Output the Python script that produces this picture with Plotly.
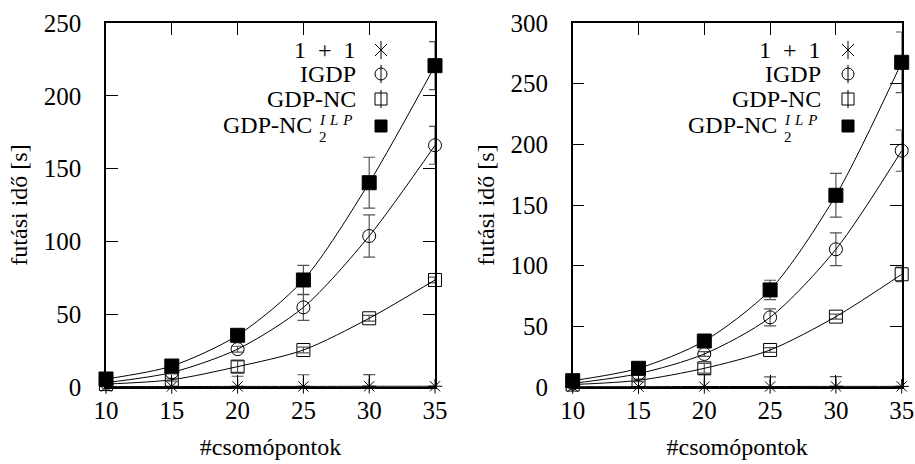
import plotly.graph_objects as go

# ---------------- data ----------------
nodes = [10, 15, 20, 25, 30, 35]

# left panel
l_one = [0.3, 0.3, 0.4, 0.4, 0.5, 0.5]
l_one_err = [0, 0, 7, 8, 8, 0]
l_igdp = [3, 10, 26, 54.7, 103.7, 166]
l_igdp_err = [0.5, 1, 2, 9, 14.5, 13]
l_nc = [2, 5, 14, 25.4, 47.2, 73.5]
l_nc_err = [0.5, 1, 4, 2, 2, 2]
l_ilp = [5.5, 14.4, 35.5, 73.5, 140.3, 220.7]
l_ilp_err = [0.5, 1, 1.5, 10, 17.5, 16.5]

# right panel
r_one = [0.3, 0.3, 0.4, 0.4, 0.5, 0.5]
r_one_err = [0, 0, 10, 8, 8, 0]
r_igdp = [3, 11, 27.2, 57.4, 113.5, 194.8]
r_igdp_err = [0.5, 1, 2, 7, 13.5, 17]
r_nc = [2, 5.5, 15.4, 30.5, 58, 92.9]
r_nc_err = [0.5, 1, 4, 2, 2, 6]
r_ilp = [5.2, 15.4, 37.9, 80, 158, 267.6]
r_ilp_err = [0.5, 1, 1.5, 8, 18, 25]

labels = ["1\u2002+\u20021", "IGDP", "GDP-NC", "GDP-NC"]
sup_label = "<i>I\u2004L\u2004P</i>"
sub_label = "2"
y_ticks_left = [0, 50, 100, 150, 200, 250]
y_ticks_right = [0, 50, 100, 150, 200, 250, 300]
x_ticks = [10, 15, 20, 25, 30, 35]

FONT = "Liberation Serif"
ERRC = "#555555"

fig = go.Figure()


def add_series(y, err, sym, size, color, xa, ya, lower=True):
    fig.add_trace(go.Scatter(
        x=nodes, y=y, mode="lines+markers", xaxis=xa, yaxis=ya,
        line=dict(color="black", width=1, shape="spline", smoothing=0.8),
        marker=dict(symbol=sym, size=size, color=color,
                    line=dict(color="black", width=1)),
        error_y=dict(type="data", array=err,
                     arrayminus=err if lower else [0] * len(err),
                     color=ERRC, thickness=1.2, width=6),
        cliponaxis=False, showlegend=False, hoverinfo="x+y"))


for (one, one_e, ig, ig_e, nc, nc_e, ilp, ilp_e, xa, ya) in [
    (l_one, l_one_err, l_igdp, l_igdp_err, l_nc, l_nc_err, l_ilp, l_ilp_err, "x", "y"),
    (r_one, r_one_err, r_igdp, r_igdp_err, r_nc, r_nc_err, r_ilp, r_ilp_err, "x2", "y2"),
]:
    add_series(one, one_e, "asterisk-open", 12, "black", xa, ya, lower=False)
    add_series(nc, nc_e, "square-open", 13, "black", xa, ya)
    add_series(ig, ig_e, "circle-open", 13, "black", xa, ya)
    add_series(ilp, ilp_e, "square", 14, "black", xa, ya)

# ---------------- legend keys (pixel overlay axes) ----------------
key_rows = [50, 74, 99, 126]
label_rows = [50, 74, 99, 125]
key_x = {"left": 381, "right": 848}
key_syms = [["x-thin-open", "line-ns-open"], ["circle-open", "line-ns-open"],
            ["square-open", "line-ns-open"], ["square"]]
for side in ("left", "right"):
    for row, syms in zip(key_rows, key_syms):
        for s in syms:
            fig.add_trace(go.Scatter(
                x=[key_x[side]], y=[row], mode="markers", xaxis="x3", yaxis="y3",
                marker=dict(symbol=s, size=13 if s.startswith("line") else 12,
                            color="black", line=dict(color="black", width=1)),
                showlegend=False, hoverinfo="skip", cliponaxis=False))

annotations = []
text_right = {"left": 358, "right": 823}
for side in ("left", "right"):
    xr = text_right[side]
    for i, (lab, row) in enumerate(zip(labels, label_rows)):
        xpos = xr - 44 if i == 3 else xr
        annotations.append(dict(x=xpos / 915, y=1 - row / 464, xref="paper", yref="paper",
                                text=lab, showarrow=False, xanchor="right", yanchor="middle",
                                font=dict(family=FONT, size=24, color="black")))
    # stacked superscript / subscript of the last entry
    annotations.append(dict(x=(xr - 41) / 915, y=1 - 120 / 464, xref="paper", yref="paper",
                            text=sup_label, showarrow=False, xanchor="left", yanchor="middle",
                            font=dict(family=FONT, size=15, color="black")))
    annotations.append(dict(x=(xr - 41) / 915, y=1 - 137 / 464, xref="paper", yref="paper",
                            text=sub_label, showarrow=False, xanchor="left", yanchor="middle",
                            font=dict(family=FONT, size=15, color="black")))

axis_common = dict(showgrid=False, zeroline=False, showline=True, linecolor="black",
                   linewidth=1.5, mirror="ticks", ticks="inside", ticklen=12,
                   tickcolor="black", tickwidth=1, automargin=False,
                   tickfont=dict(family=FONT, size=25, color="black"))

yd = [1 - 387 / 464, 1 - 23 / 464]
xt = dict(text="#csomópontok", font=dict(family=FONT, size=24), standoff=15)
yt = dict(text="futási idő [s]", font=dict(family=FONT, size=24), standoff=9)
fig.update_layout(
    width=915, height=464, margin=dict(l=0, r=0, t=0, b=0, autoexpand=False),
    plot_bgcolor="rgba(0,0,0,0)", paper_bgcolor="white",
    font=dict(family=FONT, color="black"),
    xaxis=dict(domain=[106 / 915, 435 / 915], range=[10, 35], tickvals=x_ticks,
               title=xt, anchor="y", **axis_common),
    yaxis=dict(domain=yd, range=[0, 250], tickvals=y_ticks_left, ticklabelstandoff=18,
               title=yt, anchor="x", **axis_common),
    xaxis2=dict(domain=[572.7 / 915, 901.7 / 915], range=[10, 35], tickvals=x_ticks,
                title=xt, anchor="y2", **axis_common),
    yaxis2=dict(domain=yd, range=[0, 300], tickvals=y_ticks_right, ticklabelstandoff=18,
                title=yt, anchor="x2", **axis_common),
    xaxis3=dict(domain=[0, 1], range=[0, 915], visible=False, fixedrange=True, automargin=False),
    yaxis3=dict(domain=[0, 1], range=[464, 0], visible=False, fixedrange=True, anchor="x3",
                automargin=False),
    annotations=annotations,
)

fig.write_html("out.html", config={"displayModeBar": False},
               post_script="document.body.style.margin='0';")
